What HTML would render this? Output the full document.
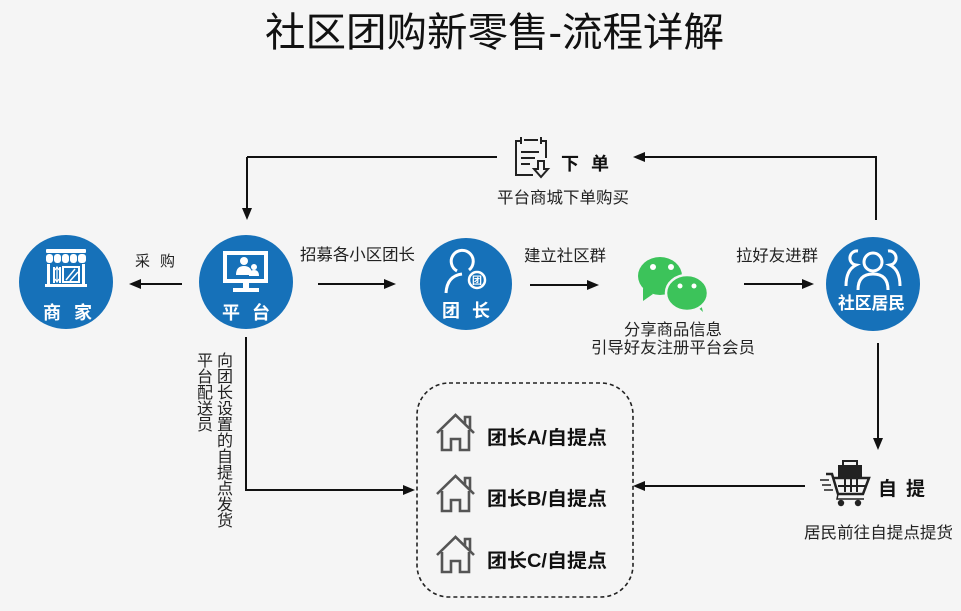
<!DOCTYPE html>
<html><head><meta charset="utf-8"><style>
html,body{margin:0;padding:0;background:#f5f5f5;}
svg{display:block;}
text{font-family:"Liberation Sans","Noto Sans CJK SC",sans-serif;}
</style></head><body>
<svg width="961" height="611" viewBox="0 0 961 611" xmlns="http://www.w3.org/2000/svg">
<rect width="961" height="611" fill="#f5f5f5"/>

<!-- Title -->
<text x="265" y="46" font-size="40" fill="#111" textLength="459" lengthAdjust="spacingAndGlyphs">社区团购新零售-流程详解</text>

<!-- Connectors -->
<g stroke="#111" stroke-width="2" fill="none">
  <path d="M247,157 H497 M247,157 V208"/>
  <path d="M645,157 H876 V220"/>
  <path d="M182,284 H141"/>
  <path d="M318,284 H384"/>
  <path d="M530,285 H587"/>
  <path d="M744,284 H802"/>
  <path d="M878,343 V438"/>
  <path d="M805,486 H645"/>
  <path d="M246,337 V490 H403"/>
</g>
<g fill="#111">
  <polygon points="242,208 252,208 247,220"/>
  <polygon points="645,152 645,162 633,157"/>
  <polygon points="141,279 141,289 129,284"/>
  <polygon points="384,279 384,289 396,284"/>
  <polygon points="587,280 587,290 599,285"/>
  <polygon points="802,279 802,289 814,284"/>
  <polygon points="873,438 883,438 878,450"/>
  <polygon points="645,481 645,491 633,486"/>
  <polygon points="403,485 403,495 415,490"/>
</g>

<!-- Dashed box -->
<rect x="417" y="383" width="216" height="214" rx="32" ry="32" fill="none" stroke="#222" stroke-width="1.6" stroke-dasharray="4 3"/>

<!-- Circles -->
<g fill="#1671b9">
  <circle cx="66" cy="282" r="47"/>
  <circle cx="246" cy="282" r="47"/>
  <circle cx="466" cy="284" r="46"/>
  <circle cx="873" cy="284" r="47"/>
</g>

<!-- Shop icon -->
<g fill="#fff">
  <rect x="46" y="249" width="40" height="4" rx="1"/>
  <rect x="46" y="254" width="7" height="9" rx="3"/>
  <rect x="54" y="254" width="7" height="9" rx="3"/>
  <rect x="62" y="254" width="7" height="9" rx="3"/>
  <rect x="70" y="254" width="7" height="9" rx="3"/>
  <rect x="78" y="254" width="8" height="9" rx="3"/>
  <rect x="47" y="264" width="3" height="21"/>
  <rect x="82" y="264" width="3" height="21"/>
  <rect x="45" y="284" width="42" height="3"/>
</g>
<g stroke="#fff" fill="none" stroke-width="2">
  <path d="M54,267 V283 M60,267 V283"/>
  <path d="M57,268 V281 M55,270 L57,267 L59,270 M55,279 L57,282 L59,279" stroke-width="1.2"/>
  <rect x="63" y="267" width="16" height="15"/>
  <path d="M66,280 L75,269 M70,281 L78,272" stroke-width="1.5"/>
</g>
<text x="43" y="319" font-size="18" font-weight="bold" fill="#fff" textLength="49" lengthAdjust="spacing">商 家</text>

<!-- Platform icon -->
<rect x="225" y="253" width="41" height="28" fill="none" stroke="#fff" stroke-width="4"/>
<g fill="#fff">
  <circle cx="244" cy="261" r="4"/>
  <path d="M236,275 Q236,266 244,266 Q252,266 252,275 Z"/>
  <circle cx="254" cy="267" r="3"/>
  <path d="M249,276 Q249,270 254,270 Q259,270 259,276 Z"/>
  <rect x="243" y="282" width="6" height="6"/>
  <rect x="233" y="288" width="26" height="4"/>
</g>
<text x="222" y="319" font-size="18" font-weight="bold" fill="#fff" textLength="48" lengthAdjust="spacing">平 台</text>

<!-- 团长 icon -->
<g stroke="#fff" fill="none" stroke-width="3">
  <path d="M469,270 A11,11 0 1 0 457,271"/>
  <path d="M446,293 Q447,276 462,274"/>
  <circle cx="477" cy="280" r="8" stroke-width="2.5"/>
</g>
<text x="477" y="284" font-size="10" font-weight="bold" fill="#fff" text-anchor="middle">团</text>
<text x="442" y="317" font-size="18" font-weight="bold" fill="#fff" textLength="48" lengthAdjust="spacing">团 长</text>

<!-- 社区居民 icon -->
<g stroke="#fff" fill="none" stroke-width="3">
  <circle cx="873" cy="262" r="9"/>
  <path d="M858,290 Q858,274 873,274 Q888,274 888,290"/>
  <path d="M858,251 A7,7 0 0 0 856,265 Q846,270 846,286"/>
  <path d="M888,251 A7,7 0 0 1 890,265 Q900,270 900,286"/>
</g>
<text x="838" y="309" font-size="17" font-weight="bold" fill="#fff" textLength="67" lengthAdjust="spacingAndGlyphs">社区居民</text>

<!-- Doc icon (下单) -->
<g stroke="#222" fill="none" stroke-width="2">
  <path d="M520,141 H516 V175 H533"/>
  <path d="M541,141 H546 V158"/>
  <path d="M521,137 V144 M541,137 V144 M524,140 H538"/>
  <path d="M521,152 H539 M521,158 H535 M521,164 H530"/>
  <path d="M538,161 V169 H534 L541,177 L548,169 H544 V161 Z"/>
</g>
<text x="561" y="170" font-size="18" font-weight="bold" fill="#111" textLength="48" lengthAdjust="spacing">下 单</text>
<text x="497" y="203" font-size="16" fill="#222" textLength="132" lengthAdjust="spacingAndGlyphs">平台商城下单购买</text>

<!-- Labels -->
<text x="135" y="266" font-size="15" fill="#222" textLength="40" lengthAdjust="spacing">采 购</text>
<text x="300" y="260" font-size="16" fill="#222" textLength="115" lengthAdjust="spacingAndGlyphs">招募各小区团长</text>
<text x="524" y="261" font-size="16" fill="#222" textLength="82" lengthAdjust="spacingAndGlyphs">建立社区群</text>
<text x="736" y="261" font-size="16" fill="#222" textLength="82" lengthAdjust="spacingAndGlyphs">拉好友进群</text>

<!-- WeChat icon -->
<g fill="#3cc35a">
  <ellipse cx="660" cy="276" rx="22" ry="19"/>
  <polygon points="643,288 653,294 643,301"/>
  <polygon points="692,302 700,300 703,312"/>
  <ellipse cx="687" cy="293" rx="21" ry="18" stroke="#f5f5f5" stroke-width="2.5"/>
</g>
<g fill="#fff">
  <circle cx="653" cy="267" r="3"/>
  <circle cx="671" cy="267" r="3"/>
  <circle cx="680" cy="286" r="2.5"/>
  <circle cx="694" cy="286" r="2.5"/>
</g>
<text x="673" y="335" font-size="16" fill="#222" text-anchor="middle" textLength="98" lengthAdjust="spacingAndGlyphs">分享商品信息</text>
<text x="591" y="353" font-size="16" fill="#222" textLength="164" lengthAdjust="spacingAndGlyphs">引导好友注册平台会员</text>

<!-- Cart icon (自提) -->
<g fill="#222">
  <rect x="838" y="465" width="24" height="12"/>
  <circle cx="841" cy="503" r="3.2"/>
  <circle cx="858" cy="503" r="3.2"/>
</g>
<g stroke="#222" fill="none" stroke-width="2">
  <path d="M843,465 V461 H857 V465"/>
  <path d="M826,474 H832 L838,494 H863 L869,478 H834" stroke-width="2.5"/>
  <path d="M845,479 V492 M851,479 V492 M857,479 V492 M838,486 H865"/>
  <path d="M820,480 H829 M822,485 H831 M824,490 H833" stroke-width="1.5"/>
  <path d="M838,494 L837,499 H864" stroke-width="1.5"/>
</g>
<text x="878" y="495" font-size="19" font-weight="bold" fill="#111" textLength="47" lengthAdjust="spacing">自 提</text>
<text x="804" y="538" font-size="16" fill="#222" textLength="149" lengthAdjust="spacingAndGlyphs">居民前往自提点提货</text>

<!-- Vertical labels -->
<g font-size="16" fill="#222" text-anchor="middle">
  <text x="205" y="366">平</text>
  <text x="205" y="382">台</text>
  <text x="205" y="398">配</text>
  <text x="205" y="414">送</text>
  <text x="205" y="430">员</text>
  <text x="225" y="366">向</text>
  <text x="225" y="382">团</text>
  <text x="225" y="398">长</text>
  <text x="225" y="414">设</text>
  <text x="225" y="430">置</text>
  <text x="225" y="446">的</text>
  <text x="225" y="462">自</text>
  <text x="225" y="478">提</text>
  <text x="225" y="494">点</text>
  <text x="225" y="510">发</text>
  <text x="225" y="526">货</text>
</g>

<!-- Houses + items -->
<g stroke="#555" fill="none" stroke-width="2.6" stroke-linejoin="miter">
  <g transform="translate(436,413)">
    <path d="M1,20 L19.5,2 L38,20"/>
    <path d="M29,11 V4 H34 V16"/>
    <path d="M6,17 V37 H15 V26 H24 V37 H33 V17"/>
  </g>
  <g transform="translate(436,474)">
    <path d="M1,20 L19.5,2 L38,20"/>
    <path d="M29,11 V4 H34 V16"/>
    <path d="M6,17 V37 H15 V26 H24 V37 H33 V17"/>
  </g>
  <g transform="translate(436,535)">
    <path d="M1,20 L19.5,2 L38,20"/>
    <path d="M29,11 V4 H34 V16"/>
    <path d="M6,17 V37 H15 V26 H24 V37 H33 V17"/>
  </g>
</g>
<g font-size="19" font-weight="bold" fill="#111">
  <text x="487" y="444" textLength="120" lengthAdjust="spacingAndGlyphs">团长A/自提点</text>
  <text x="487" y="505" textLength="120" lengthAdjust="spacingAndGlyphs">团长B/自提点</text>
  <text x="487" y="567" textLength="120" lengthAdjust="spacingAndGlyphs">团长C/自提点</text>
</g>
</svg>
</body></html>
